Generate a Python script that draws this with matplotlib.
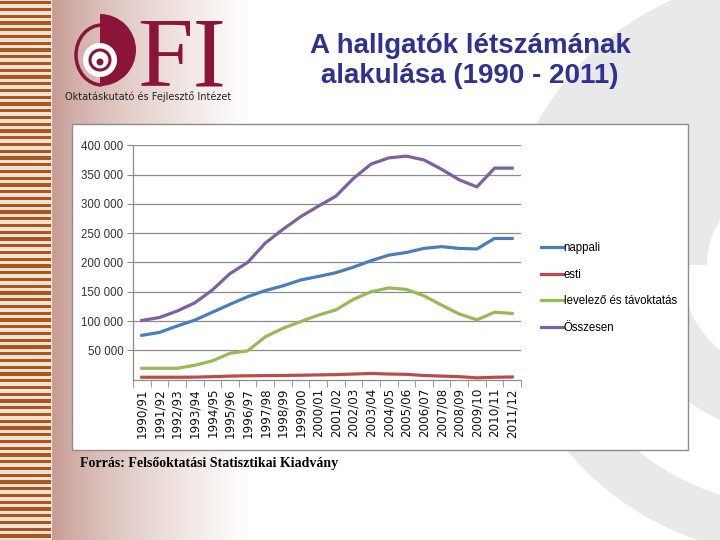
import numpy as np
import matplotlib
matplotlib.use('Agg')
import matplotlib.pyplot as plt
from matplotlib.patches import Rectangle, Wedge, Circle, Arc
from matplotlib.lines import Line2D

# Chart data
years = ['1990/91', '1991/92', '1992/93', '1993/94', '1994/95', '1995/96',
         '1996/97', '1997/98', '1998/99', '1999/00', '2000/01', '2001/02',
         '2002/03', '2003/04', '2004/05', '2005/06', '2006/07', '2007/08',
         '2008/09', '2009/10', '2010/11', '2011/12']
nappali = [75600, 80500, 91500, 101500, 115000, 128500, 141500, 152000,
           160000, 170000, 176000, 182500, 192000, 203000, 212500, 217000,
           224000, 227000, 224000, 223000, 241000, 241000]
esti = [4000, 4000, 4000, 4200, 5000, 6000, 6500, 6800, 7000, 7500, 8000,
        8500, 9500, 10500, 9500, 9000, 7000, 6000, 5000, 3000, 4000, 4500]
levelezo = [19300, 19300, 19300, 24400, 32000, 45000, 49000, 73000, 87500,
            99000, 110000, 119000, 137000, 150000, 156500, 154000, 143000,
            127000, 112000, 102000, 115000, 113000]
osszesen = [101000, 106000, 117000, 131000, 153000, 181000, 200000, 233000,
            256500, 278000, 296000, 313000, 343500, 368000, 378500, 381500,
            375000, 359000, 341000, 329000, 361000, 361000]

series_names = ['nappali', 'esti', 'levelező és távoktatás', 'Összesen']
series_colors = ['#4A7EBB', '#BE4B48', '#98B954', '#7D60A0']
y_ticks = [50000, 100000, 150000, 200000, 250000, 300000, 350000, 400000]

title = 'A hallgatók létszámának\nalakulása (1990 - 2011)'
source = 'Forrás: Felsőoktatási Statisztikai Kiadvány'
institute = 'Oktatáskutató és Fejlesztő Intézet'

W, H = 720, 540
fig = plt.figure(figsize=(7.2, 5.4), dpi=100)
fig.patch.set_facecolor('white')

# slide background in pixel coordinates
bg = fig.add_axes([0, 0, 1, 1])
bg.set_xlim(0, W)
bg.set_ylim(H, 0)
bg.axis('off')

# gradient band next to the stripes
t = np.linspace(0, 1, 256) ** 0.7
left = np.array([196, 152, 142]) / 255.0
grad = left[None, :] * (1 - t[:, None]) + t[:, None]
bg.imshow(grad[None, :, :], extent=(51, 250, H, 0), aspect='auto', zorder=0)

# striped left border
bg.add_patch(Rectangle((0, 0), 51, H, color='#F3E1D4', zorder=1))
for k in range(81):
    bg.add_patch(Rectangle((0, k * 6.75 + 1), 51, 3.4, color='#A9561F',
                           lw=0, zorder=2))

# grey watermark spiral on the right (y axis is flipped here)
ring_col = '#E9E9E9'
cx, cy = 790, 265
bg.add_patch(Wedge((cx, cy), 290, 0, 360, width=50, color=ring_col, lw=0, zorder=1))
bg.add_patch(Wedge((cx, cy), 290, 180, 360, width=150, color=ring_col, lw=0, zorder=1))
bg.add_patch(Wedge((cx, cy), 183, 180, 270, width=100, color=ring_col, lw=0, zorder=1))
bg.add_patch(Wedge((cx, cy), 170, 90, 180, width=60, color=ring_col, lw=0, zorder=1))

# logo
logo_col = '#8A1538'
bg.add_patch(Wedge((100, 50), 36, -90, 90, color=logo_col, lw=0, zorder=3))
bg.add_patch(Circle((100, 60), 17, color='white', lw=0, zorder=4))
bg.add_patch(Circle((100, 60), 10, fill=False, ec=logo_col, lw=2.2, zorder=5))
bg.add_patch(Circle((100, 62), 3.5, color=logo_col, lw=0, zorder=5))
bg.add_patch(Arc((102, 55), 52, 60, theta1=90, theta2=270, color=logo_col,
                 lw=2.5, zorder=3))
bg.text(137, 86, 'FI', fontsize=72, family='Liberation Serif', color=logo_col,
        ha='left', va='baseline', zorder=3)
bg.text(65, 97, institute, fontsize=7, family='DejaVu Sans', color='#222222',
        ha='left', va='center', zorder=3)

# title
fig.text(470 / W, 1 - 61 / H, title, fontsize=20, fontweight='bold',
         family='Liberation Sans', color='#2E3192', ha='center', va='center',
         linespacing=1.2)

# chart frame
bg.add_patch(Rectangle((72, 124), 616, 326, facecolor='white',
                       edgecolor='#8C8C8C', lw=1, zorder=6))

# source note
bg.text(80, 463, source, fontsize=10, fontweight='bold', family='Liberation Serif',
        color='black', ha='left', va='center', zorder=7)

# line chart
ax = fig.add_axes([133 / W, 1 - 379.6 / H, 388 / W, 234.3 / H])
ax.patch.set_alpha(0)
x = np.arange(len(years))
for vals, name, col in zip([nappali, esti, levelezo, osszesen],
                           series_names, series_colors):
    ax.plot(x, vals, color=col, lw=2.3, label=name, solid_joinstyle='round')

ax.set_xlim(-0.5, len(years) - 0.5)
ax.set_ylim(0, 400000)
ax.set_yticks(y_ticks)
ax.set_yticklabels([f'{v:,}'.replace(',', ' ') for v in y_ticks])
ax.yaxis.grid(True, color='#8C8C8C', lw=0.9)
ax.set_axisbelow(True)
ax.set_xticks(x)
ax.set_xticklabels(years, rotation=90, fontsize=8.6, family='DejaVu Sans',
                   color='#111111')
ax.set_xticks(np.arange(-0.5, len(years), 1), minor=True)
ax.tick_params(axis='x', which='major', length=0, pad=6)
ax.tick_params(axis='x', which='minor', length=5, color='#8C8C8C')
ax.tick_params(axis='y', length=4, color='#8C8C8C', pad=3, labelsize=8.3,
               labelcolor='#333333')
for lab in ax.get_yticklabels():
    lab.set_family('Liberation Sans')
for s in ['top', 'right']:
    ax.spines[s].set_visible(False)
for s in ['left', 'bottom']:
    ax.spines[s].set_color('#8C8C8C')
    ax.spines[s].set_linewidth(0.9)

handles = [Line2D([], [], color=c, lw=2.3) for c in series_colors]
fig.legend(handles, series_names, loc='center left',
           bbox_to_anchor=(536 / W, 1 - 288 / H), frameon=False,
           prop={'family': 'Liberation Sans', 'size': 8.3},
           handlelength=1.9, handletextpad=0.1, labelspacing=1.28,
           borderaxespad=0)

fig.savefig('out.png', dpi=100)
